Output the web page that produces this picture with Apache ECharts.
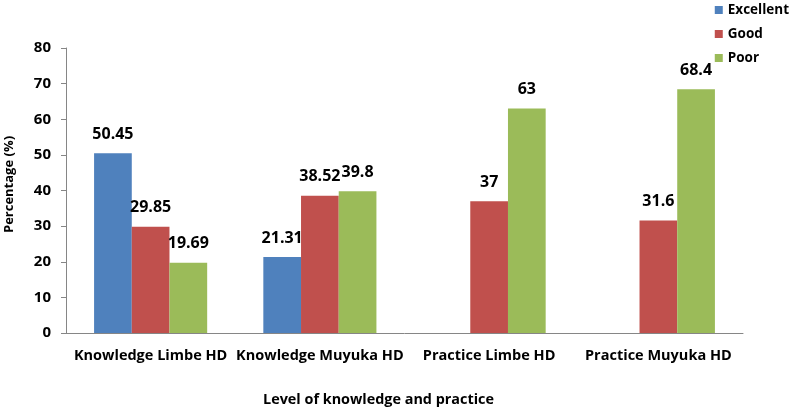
<!DOCTYPE html>
<html><head><meta charset="utf-8">
<script src="https://cdn.jsdelivr.net/npm/echarts@6/dist/echarts.min.js"></script>
<style>html,body{margin:0;padding:0;background:#fff}#c{width:794px;height:408px}</style>
</head><body><div id="c"></div>
<script>
const categories = ['Knowledge Limbe HD', 'Knowledge Muyuka HD', 'Practice Limbe HD', 'Practice Muyuka HD'];
const excellent = [50.45, 21.31, null, null];
const good = [29.85, 38.52, 37, 31.6];
const poor = [19.69, 39.8, 63, 68.4];
const yTicks = {min: 0, max: 80, interval: 10};
const FONT = 'Open Sans';
const chart = echarts.init(document.getElementById('c'));
const lbl = {show: true, position: 'top', distance: 11, fontFamily: FONT, fontWeight: 'bold', fontSize: 16, color: '#000'};
function s(name, data, color) {
  return {name, type: 'bar', data, barWidth: 37.7, barGap: '0%', itemStyle: {color}, label: lbl};
}
chart.setOption({
  animation: false,
  textStyle: {fontFamily: FONT},
  grid: {left: 66, right: 51, top: 48, bottom: 75, containLabel: false, outerBoundsMode: 'none'},
  legend: {
    orient: 'vertical', right: 0, top: -2, itemWidth: 8, itemHeight: 8, itemGap: 10,
    icon: 'rect',
    textStyle: {fontFamily: FONT, fontWeight: 'bold', fontSize: 13.5, color: '#000'},
    data: ['Excellent', 'Good', 'Poor']
  },
  xAxis: {
    type: 'category', data: categories,
    name: 'Level of knowledge and practice', nameLocation: 'middle', nameGap: 60,
    nameTextStyle: {fontFamily: FONT, fontWeight: 'bold', fontSize: 14.4, color: '#000', padding: [0, 52, 0, 0]},
    axisLine: {lineStyle: {color: '#868686'}},
    axisTick: {show: false},
    axisLabel: {fontFamily: FONT, fontWeight: 'bold', fontSize: 14.5, color: '#000', margin: 15, interval: 0}
  },
  yAxis: {
    type: 'value', min: yTicks.min, max: yTicks.max, interval: yTicks.interval,
    name: 'Percentage (%)', nameLocation: 'middle', nameGap: 50,
    nameTextStyle: {fontFamily: FONT, fontWeight: 'bold', fontSize: 13, color: '#000', padding: [0, 0, 0, 12]},
    axisLine: {show: true, lineStyle: {color: '#868686'}},
    axisTick: {show: true, length: 5, lineStyle: {color: '#868686'}},
    splitLine: {show: false},
    axisLabel: {fontFamily: FONT, fontWeight: 'bold', fontSize: 15, color: '#000', margin: 15}
  },
  series: [s('Excellent', excellent, '#4F81BD'), s('Good', good, '#C0504D'), s('Poor', poor, '#9BBB59')]
});
</script></body></html>
